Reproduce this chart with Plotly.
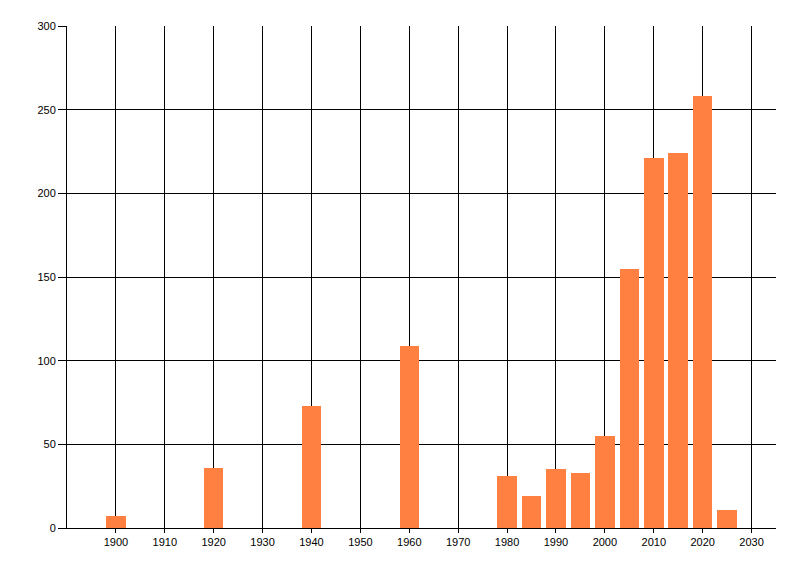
import plotly.graph_objects as go

years = [1900, 1920, 1940, 1960, 1980, 1985, 1990, 1995, 2000, 2005, 2010, 2015, 2020, 2025]
counts = [7, 36, 73, 109, 31, 19, 35, 33, 55, 155, 221, 224, 258, 11]
x_ticks = list(range(1900, 2031, 10))
y_ticks = [0, 50, 100, 150, 200, 250, 300]

fig = go.Figure(go.Bar(
    x=years, y=counts, width=4,
    marker=dict(color="rgb(255,128,64)", line=dict(width=0)),
))

font = dict(family="Liberation Sans, Arial, sans-serif", size=11, color="black")
fig.update_layout(
    width=792, height=568,
    margin=dict(l=59, r=24, t=18, b=48),
    paper_bgcolor="white", plot_bgcolor="white",
    showlegend=False, font=font, bargap=0,
)
fig.update_xaxes(
    range=[1890, 2035], tickvals=x_ticks, ticktext=[str(v) for v in x_ticks],
    showgrid=True, gridcolor="black", gridwidth=1,
    showline=True, linecolor="black", linewidth=1,
    ticks="outside", ticklen=4, tickcolor="black", zeroline=False,
    tickfont=font,
)
fig.update_yaxes(
    range=[0, 300], tickvals=y_ticks,
    showgrid=True, gridcolor="black", gridwidth=1,
    showline=True, linecolor="black", linewidth=1,
    ticks="outside", ticklen=8, tickcolor="black", zeroline=False,
    tickfont=font,
)
fig.write_html("out.html")
